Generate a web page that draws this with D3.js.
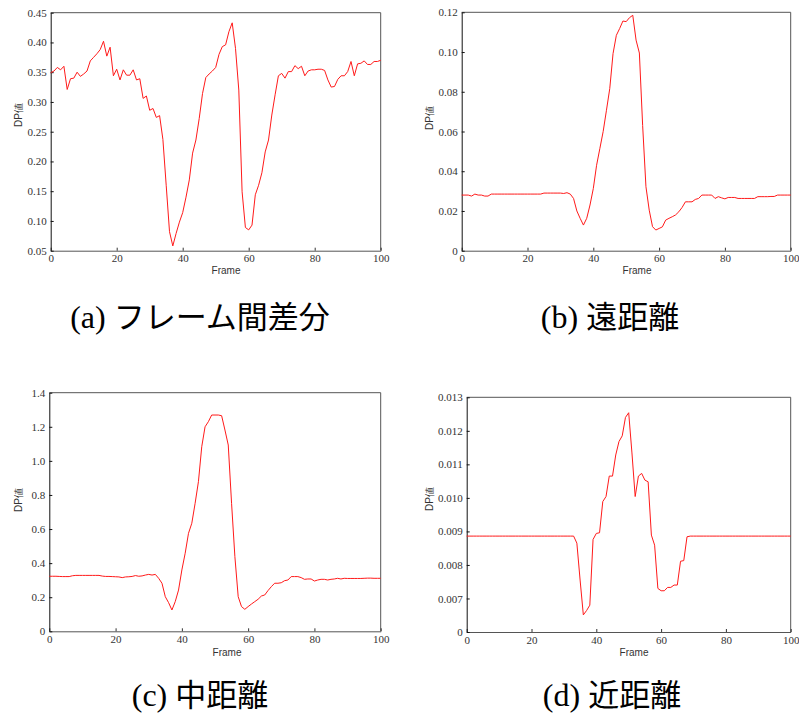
<!DOCTYPE html>
<html>
<head>
<meta charset="utf-8">
<script src="https://cdn.jsdelivr.net/npm/d3@7"></script>
<style>
  html, body { margin: 0; padding: 0; background: #fff; }
  svg { display: block; }
  .tick text { font-family: "Liberation Serif", "DejaVu Serif", serif; font-size: 11px; fill: #333; }
  .axis-title { font-family: "Liberation Sans", "DejaVu Sans", sans-serif; font-size: 10px; fill: #333; }
  .cap-tag { font-family: "Liberation Serif", "DejaVu Serif", serif; }
  .cap-jp { font-family: "Noto Sans CJK JP", sans-serif; }
</style>
</head>
<body>
<svg id="fig" width="799" height="718"></svg>
<script>
// Frame index shared by all four panels
const frames = d3.range(0, 101);

// (a) inter-frame difference
const interFrameDiff = [
  0.349, 0.352, 0.358, 0.354, 0.360, 0.321, 0.339, 0.340, 0.350, 0.343,
  0.347, 0.352, 0.369, 0.375, 0.381, 0.388, 0.402, 0.377, 0.392, 0.344,
  0.355, 0.337, 0.354, 0.345, 0.345, 0.354, 0.337, 0.339, 0.306, 0.310,
  0.286, 0.289, 0.274, 0.277, 0.237, 0.160, 0.082, 0.058, 0.079, 0.098,
  0.114, 0.140, 0.169, 0.214, 0.236, 0.272, 0.314, 0.341, 0.347, 0.352,
  0.358, 0.380, 0.393, 0.396, 0.418, 0.433, 0.390, 0.320, 0.149, 0.089,
  0.085, 0.093, 0.144, 0.160, 0.181, 0.216, 0.236, 0.278, 0.312, 0.344,
  0.348, 0.340, 0.351, 0.351, 0.361, 0.356, 0.360, 0.344, 0.352, 0.354,
  0.354, 0.355, 0.355, 0.353, 0.337, 0.325, 0.326, 0.338, 0.344, 0.344,
  0.351, 0.368, 0.344, 0.364, 0.365, 0.369, 0.363, 0.363, 0.368, 0.368,
  0.370
];

// (b) far distance
const farDist = [
  0.0280, 0.0280, 0.0280, 0.0275, 0.0285, 0.0280, 0.0280, 0.0275, 0.0275, 0.0285,
  0.0285, 0.0285, 0.0285, 0.0285, 0.0285, 0.0285, 0.0285, 0.0285, 0.0285, 0.0285,
  0.0285, 0.0285, 0.0285, 0.0285, 0.0285, 0.0290, 0.0290, 0.0290, 0.0290, 0.0290,
  0.0290, 0.0288, 0.0292, 0.0285, 0.0263, 0.0200, 0.0163, 0.0129, 0.0163, 0.0230,
  0.0313, 0.0430, 0.0515, 0.0600, 0.0707, 0.0816, 0.0992, 0.1084, 0.1118, 0.1156,
  0.1153, 0.1173, 0.1185, 0.1060, 0.0995, 0.0630, 0.0322, 0.0204, 0.0121, 0.0104,
  0.0112, 0.0120, 0.0154, 0.0163, 0.0171, 0.0180, 0.0196, 0.0218, 0.0246, 0.0246,
  0.0246, 0.0258, 0.0263, 0.0280, 0.0280, 0.0280, 0.0280, 0.0263, 0.0272, 0.0266,
  0.0261, 0.0268, 0.0268, 0.0268, 0.0263, 0.0263, 0.0263, 0.0263, 0.0263, 0.0263,
  0.0272, 0.0272, 0.0272, 0.0272, 0.0273, 0.0273, 0.0280, 0.0280, 0.0280, 0.0280,
  0.0280
];

// (c) middle distance
const midDist = [
  0.323, 0.323, 0.323, 0.322, 0.321, 0.321, 0.321, 0.326, 0.328, 0.328,
  0.328, 0.328, 0.328, 0.328, 0.328, 0.328, 0.324, 0.322, 0.322, 0.321,
  0.320, 0.319, 0.315, 0.319, 0.320, 0.322, 0.327, 0.323, 0.325, 0.330,
  0.334, 0.330, 0.334, 0.311, 0.282, 0.203, 0.168, 0.125, 0.174, 0.242,
  0.360, 0.458, 0.575, 0.634, 0.751, 0.878, 1.083, 1.200, 1.230, 1.269,
  1.269, 1.269, 1.265, 1.181, 1.093, 0.751, 0.438, 0.203, 0.145, 0.129,
  0.145, 0.160, 0.174, 0.188, 0.207, 0.213, 0.239, 0.262, 0.282, 0.282,
  0.285, 0.297, 0.301, 0.321, 0.321, 0.321, 0.315, 0.305, 0.307, 0.307,
  0.295, 0.301, 0.305, 0.305, 0.301, 0.305, 0.307, 0.311, 0.307, 0.311,
  0.310, 0.310, 0.310, 0.310, 0.310, 0.311, 0.312, 0.312, 0.311, 0.311,
  0.311
];

// (d) near distance
const nearDist = [
  0.00886, 0.00886, 0.00886, 0.00886, 0.00886, 0.00886, 0.00886, 0.00886, 0.00886, 0.00886,
  0.00886, 0.00886, 0.00886, 0.00886, 0.00886, 0.00886, 0.00886, 0.00886, 0.00886, 0.00886,
  0.00886, 0.00886, 0.00886, 0.00886, 0.00886, 0.00886, 0.00886, 0.00886, 0.00886, 0.00886,
  0.00886, 0.00886, 0.00886, 0.00886, 0.00865, 0.00755, 0.00651, 0.00664, 0.00680, 0.00876,
  0.00894, 0.00896, 0.00989, 0.01004, 0.01065, 0.01065, 0.01128, 0.01168, 0.01185, 0.01240,
  0.01254, 0.01134, 0.01004, 0.01065, 0.01073, 0.01053, 0.01048, 0.00889, 0.00859, 0.00730,
  0.00723, 0.00723, 0.00733, 0.00733, 0.00740, 0.00740, 0.00811, 0.00813, 0.00884, 0.00886,
  0.00886, 0.00886, 0.00886, 0.00886, 0.00886, 0.00886, 0.00886, 0.00886, 0.00886, 0.00886,
  0.00886, 0.00886, 0.00886, 0.00886, 0.00886, 0.00886, 0.00886, 0.00886, 0.00886, 0.00886,
  0.00886, 0.00886, 0.00886, 0.00886, 0.00886, 0.00886, 0.00886, 0.00886, 0.00886, 0.00886,
  0.00886
];

// Tick values and their printed labels
const xTicks = [0, 20, 40, 60, 80, 100];
const yTicksA = [0.05, 0.10, 0.15, 0.20, 0.25, 0.30, 0.35, 0.40, 0.45];
const yLabelsA = ["0.05", "0.10", "0.15", "0.20", "0.25", "0.30", "0.35", "0.40", "0.45"];
const yTicksB = [0, 0.02, 0.04, 0.06, 0.08, 0.10, 0.12];
const yLabelsB = ["0", "0.02", "0.04", "0.06", "0.08", "0.10", "0.12"];
const yTicksC = [0, 0.2, 0.4, 0.6, 0.8, 1.0, 1.2, 1.4];
const yLabelsC = ["0", "0.2", "0.4", "0.6", "0.8", "1.0", "1.2", "1.4"];
const yTicksD = [0.006, 0.007, 0.008, 0.009, 0.010, 0.011, 0.012, 0.013];
const yLabelsD = ["0", "0.007", "0.008", "0.009", "0.010", "0.011", "0.012", "0.013"];

const captionTags = ["(a)", "(b)", "(c)", "(d)"];
const captionNames = ["フレーム間差分", "遠距離", "中距離", "近距離"];
const xTitle = "Frame";
const yTitle = "DP値";

// Panel geometry (plot box in page pixels)
const panels = [
  { series: interFrameDiff, yTicks: yTicksA, yLabels: yLabelsA,
    left: 50.7, right: 380.7, top: 12.7, bottom: 250.7,
    yTitleX: 18, yTitleY: 115, xTitleX: 226, xTitleY: 274, capX: 200, capY: 328 },
  { series: farDist, yTicks: yTicksB, yLabels: yLabelsB,
    left: 461.7, right: 790.7, top: 12.3, bottom: 250.7,
    yTitleX: 429, yTitleY: 118, xTitleX: 637, xTitleY: 274, capX: 610, capY: 328 },
  { series: midDist, yTicks: yTicksC, yLabels: yLabelsC,
    left: 49.3, right: 380.7, top: 392.7, bottom: 631.3,
    yTitleX: 18, yTitleY: 500, xTitleX: 227, xTitleY: 656, capX: 200, capY: 706 },
  { series: nearDist, yTicks: yTicksD, yLabels: yLabelsD,
    left: 466.7, right: 790.7, top: 397.3, bottom: 632,
    yTitleX: 429, yTitleY: 499, xTitleX: 634, xTitleY: 656, capX: 612, capY: 706 }
];

const svg = d3.select("#fig");

panels.forEach((p, i) => {
  const yMin = p.yTicks[0], yMax = p.yTicks[p.yTicks.length - 1];
  const x = d3.scaleLinear().domain([0, 100]).range([p.left, p.right]);
  const y = d3.scaleLinear().domain([yMin, yMax]).range([p.bottom, p.top]);
  const g = svg.append("g");

  // plot frame: top and right edges
  g.append("path")
    .attr("d", `M${p.left},${p.top}H${p.right}V${p.bottom}`)
    .attr("fill", "none").attr("stroke", "#555").attr("stroke-width", 1);

  // bottom axis with inward ticks
  const xAxis = d3.axisBottom(x).tickValues(xTicks).tickFormat(d3.format("d"))
    .tickSizeInner(-3).tickSizeOuter(0).tickPadding(4);
  const gx = g.append("g").attr("transform", `translate(0,${p.bottom})`).call(xAxis);
  gx.select(".domain").attr("stroke", "#555");
  gx.selectAll(".tick line").attr("stroke", "#333");

  // left axis with inward ticks
  const labelOf = new Map(p.yTicks.map((v, k) => [v, p.yLabels[k]]));
  const yAxis = d3.axisLeft(y).tickValues(p.yTicks).tickFormat(v => labelOf.get(v))
    .tickSizeInner(-3).tickSizeOuter(0).tickPadding(4);
  const gy = g.append("g").attr("transform", `translate(${p.left},0)`).call(yAxis);
  gy.select(".domain").attr("stroke", "#111");
  gy.selectAll(".tick line").attr("stroke", "#111");

  // axis titles
  g.append("text").attr("class", "axis-title")
    .attr("x", p.xTitleX).attr("y", p.xTitleY).attr("text-anchor", "middle").text(xTitle);
  g.append("text").attr("class", "axis-title")
    .attr("transform", `translate(${p.yTitleX},${p.yTitleY}) rotate(-90)`)
    .attr("text-anchor", "middle").attr("dy", "0.35em").text(yTitle);

  // data line
  const line = d3.line().x((d, k) => x(frames[k])).y(d => y(d));
  g.append("path").datum(p.series)
    .attr("d", line).attr("fill", "none")
    .attr("stroke", "#ff1a1a").attr("stroke-width", 1).attr("stroke-linejoin", "round");

  // sub-figure caption
  const cap = g.append("text").attr("x", p.capX).attr("y", p.capY)
    .attr("text-anchor", "middle").attr("fill", "#000");
  cap.append("tspan").attr("class", "cap-tag").attr("font-size", 32).text(captionTags[i] + " ");
  cap.append("tspan").attr("class", "cap-jp").attr("font-size", 31).text(captionNames[i]);
});
</script>
</body>
</html>
